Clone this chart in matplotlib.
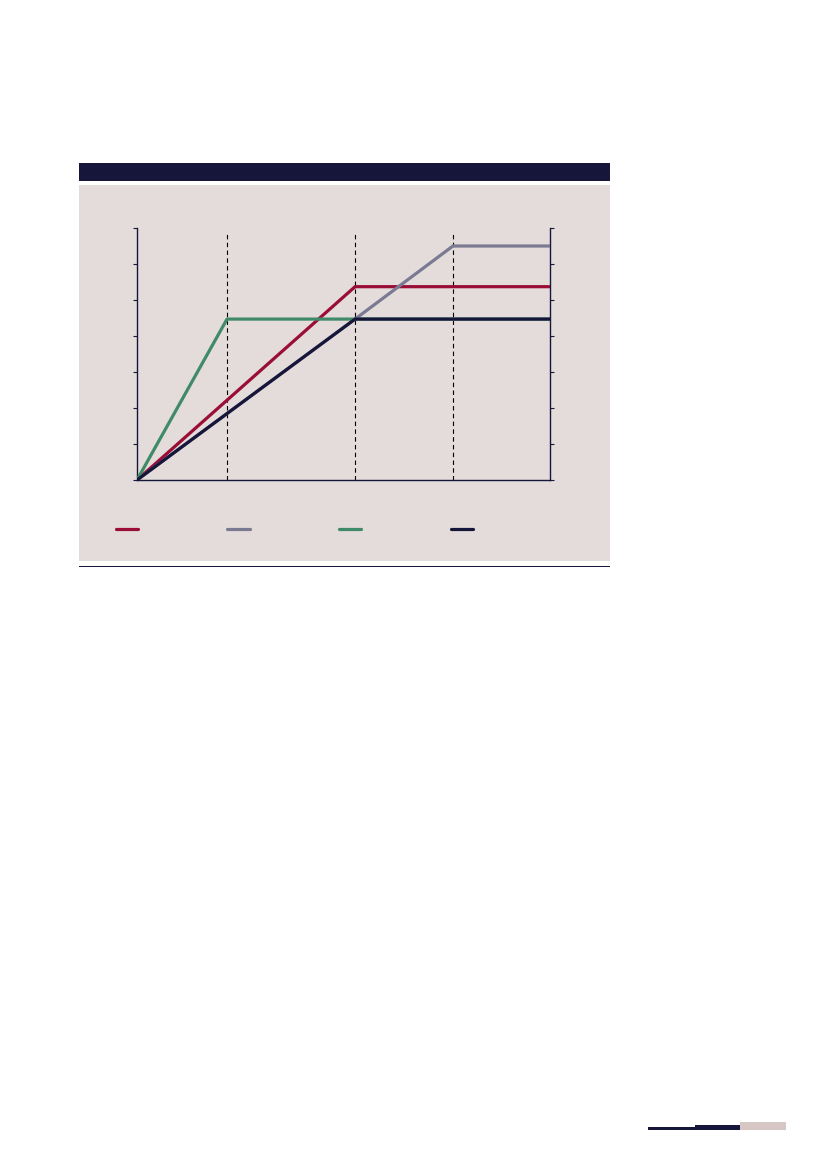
import matplotlib
matplotlib.use("Agg")
import matplotlib.pyplot as plt
from matplotlib.patches import Rectangle
from matplotlib.lines import Line2D

# data (x in % of the horizon)
phase_x = [21.8, 52.8, 76.5]
red_x = [0, 52.8, 100]
red_y = [0, 5.37, 5.37]
gray_x = [0, 52.8, 76.5, 100]
gray_y = [0, 4.47, 6.5, 6.5]
green_x = [0, 21.8, 100]
green_y = [0, 4.47, 4.47]
navy_x = [0, 52.8, 100]
navy_y = [0, 4.47, 4.47]
y_ticks = [0, 1, 2, 3, 4, 5, 6, 7]

NAVY = "#16163a"
RED = "#9a0d36"
GRAY = "#7a7a92"
GREEN = "#408a69"
PANEL = "#e3dcda"
PINK = "#d6c6c4"

W, H = 827, 1169
fig = plt.figure(figsize=(W / 100, H / 100), dpi=100)
fig.patch.set_facecolor("white")

def box(x0, y0, x1, y1):
    # pixel box (top-left origin) -> figure fraction
    return (x0 / W, 1 - y1 / H), (x1 - x0) / W, (y1 - y0) / H

for (x0, y0, x1, y1, c) in [(79, 163, 610, 181, NAVY), (79, 185, 610, 561, PANEL),
                            (79, 565.8, 610, 567, NAVY),
                            (648, 1127, 695, 1130, NAVY), (695, 1125, 740, 1130, NAVY),
                            (740, 1122, 786, 1130, PINK)]:
    xy, w, h = box(x0, y0, x1, y1)
    fig.patches.append(Rectangle(xy, w, h, transform=fig.transFigure, color=c,
                                 lw=0, zorder=-5))

xy, w, h = box(137, 228, 550, 480)
ax = fig.add_axes([xy[0], xy[1], w, h])
ax.set_facecolor("none")
ax.set_zorder(2)

for px in phase_x:
    ax.vlines(px, 0, 6.89, colors="black", lw=0.8, linestyles=(0, (4, 3)), zorder=1)

lw = 2.3
ax.plot(red_x, red_y, color=RED, lw=lw, zorder=3)
ax.plot(gray_x, gray_y, color=GRAY, lw=lw, zorder=3)
ax.plot(green_x, green_y, color=GREEN, lw=lw, zorder=3)
ax.plot(navy_x, navy_y, color=NAVY, lw=lw, zorder=4)

ax.set_xlim(0, 100)
ax.set_ylim(0, 7)
ax.set_yticks(y_ticks)
ax.set_xticks([])
ax.tick_params(axis="y", left=True, right=True, direction="out", length=3,
               width=0.8, color=NAVY, labelleft=False, labelright=False)
ax.spines["top"].set_visible(False)
for s in ["left", "right", "bottom"]:
    ax.spines[s].set_color(NAVY)
    ax.spines[s].set_linewidth(1.0)

handles = [Line2D([], [], color=c, lw=2.3, solid_capstyle="round")
           for c in [RED, GRAY, GREEN, NAVY]]
leg = fig.legend(handles, [""] * 4, ncol=4, frameon=False, fontsize=10,
                 handlelength=1.6, handletextpad=0.0, columnspacing=6.45,
                 loc="center left", bbox_to_anchor=(103 / W, 1 - 530 / H))
leg.set_zorder(3)

fig.savefig("out.png", dpi=100)
